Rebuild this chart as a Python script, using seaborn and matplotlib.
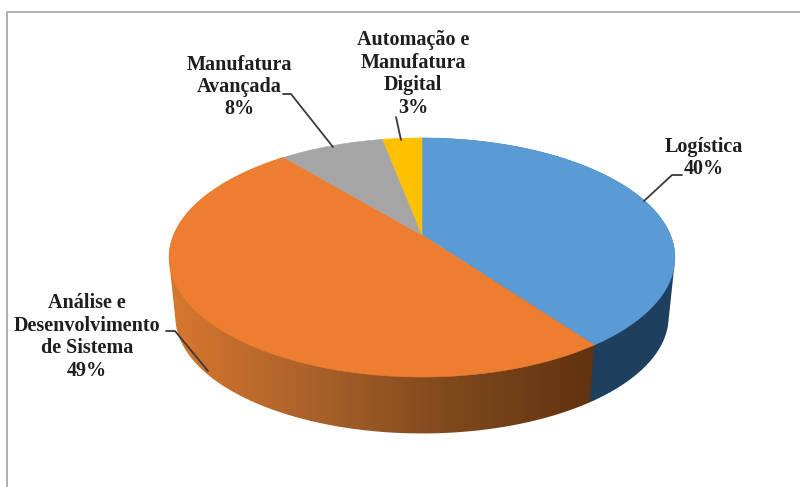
import numpy as np
import seaborn as sns
import matplotlib
matplotlib.use("Agg")
import matplotlib.pyplot as plt
from matplotlib.colors import LinearSegmentedColormap
from matplotlib.patches import Polygon

labels = ["Logística\n40%", "Análise e\nDesenvolvimento\nde Sistema\n49%",
          "Manufatura\nAvançada\n8%", "Automação e\nManufatura\nDigital\n3%"]
values = [40, 49, 8, 3]
top_colors = ["#5B9BD5", "#ED7D31", "#A5A5A5", "#FFC000"]
side_stops = [["#1F3F5F", "#1F3F5F"],
              ["#D9782F", "#AB622A", "#7E481C", "#613210"],
              ["#636363", "#636363"], ["#997300", "#997300"]]

sns.set_theme(style="white")
plt.rcParams["font.family"] = ["Liberation Serif", "DejaVu Serif"]

fig = plt.figure(figsize=(8, 4.87), dpi=100)
ax = fig.add_axes([0, 0, 1, 1])
ax.set_xlim(0, 800)
ax.set_ylim(487, 0)
ax.axis("off")

# frame of the chart area
ax.plot([7, 7, 800], [487, 12, 12], color="#B0B0B0", lw=1.4, zorder=1)

# perspective disc: projected circle
CX, CY, A, B, K = 422, 235, 248.4, 115.3, 0.188
SHRINK, DROP = 0.975, 60


def project(theta, scale=1.0, drop=0.0):
    u, v = np.sin(theta), np.cos(theta)
    d = 1 + K * v
    return CX + scale * A * u / d, CY + drop - scale * B * v / d


def hull(points):
    pts = sorted(set(map(tuple, points)))

    def half(seq):
        out = []
        for p in seq:
            while len(out) > 1 and ((out[-1][0] - out[-2][0]) * (p[1] - out[-2][1])
                                    - (out[-1][1] - out[-2][1]) * (p[0] - out[-2][0])) <= 0:
                out.pop()
            out.append(p)
        return out[:-1]

    return np.array(half(pts) + half(pts[::-1]))


edges = np.concatenate([[0], np.cumsum(values)]) / np.sum(values) * 2 * np.pi

# side walls as gradient images clipped to the wall outline
for i, (a0, a1) in enumerate(zip(edges[:-1], edges[1:])):
    cmap = LinearSegmentedColormap.from_list("s", side_stops[i])
    th = np.linspace(a0, a1, 300)
    xa, ya = project(th)
    xb, yb = project(th, SHRINK, DROP)
    wall = Polygon(hull(np.c_[np.r_[xa, xb], np.r_[ya, yb]]), closed=True,
                   transform=ax.transData, facecolor="none", edgecolor="none")
    ax.add_patch(wall)
    if i == 1:
        im = ax.imshow(np.linspace(0, 1, 256)[None, :], cmap=cmap, vmin=0, vmax=1,
                       extent=(165, 597, 487, 0), aspect="auto", zorder=2.5,
                       interpolation="bilinear")
    elif i == 0:
        im = ax.imshow(np.array([[0.5]]), cmap=cmap, vmin=0, vmax=1,
                       extent=(0, 800, 487, 0), aspect="auto", zorder=2.1)
    else:
        continue
    im.set_clip_path(wall)
ax.set_xlim(0, 800)
ax.set_ylim(487, 0)

# top faces
for i, (a0, a1) in enumerate(zip(edges[:-1], edges[1:])):
    th = np.linspace(a0, a1, 200)
    x, y = project(th)
    ax.fill(np.r_[CX, x], np.r_[CY, y], color=top_colors[i], lw=0.4, zorder=3)

# leader lines
leader = dict(color="#3A3A3A", lw=1.3, zorder=4, solid_joinstyle="round")
ax.plot([682, 672, 644], [175, 175, 201], **leader)
ax.plot([166, 175, 208], [331, 331, 371], **leader)
ax.plot([283, 291, 333], [94, 94, 147], **leader)
ax.plot([396, 401], [117, 140], **leader)

# labels
label_pos = [(704, 158), (87, 337), (239, 87), (413, 74)]
for (x, y), s in zip(label_pos, labels):
    ax.text(x, y, s, ha="center", va="center", fontsize=14.5, fontweight="bold",
            color="#1E1E1E", linespacing=1.16, zorder=5)

fig.savefig("out.png", dpi=100, facecolor="white")
